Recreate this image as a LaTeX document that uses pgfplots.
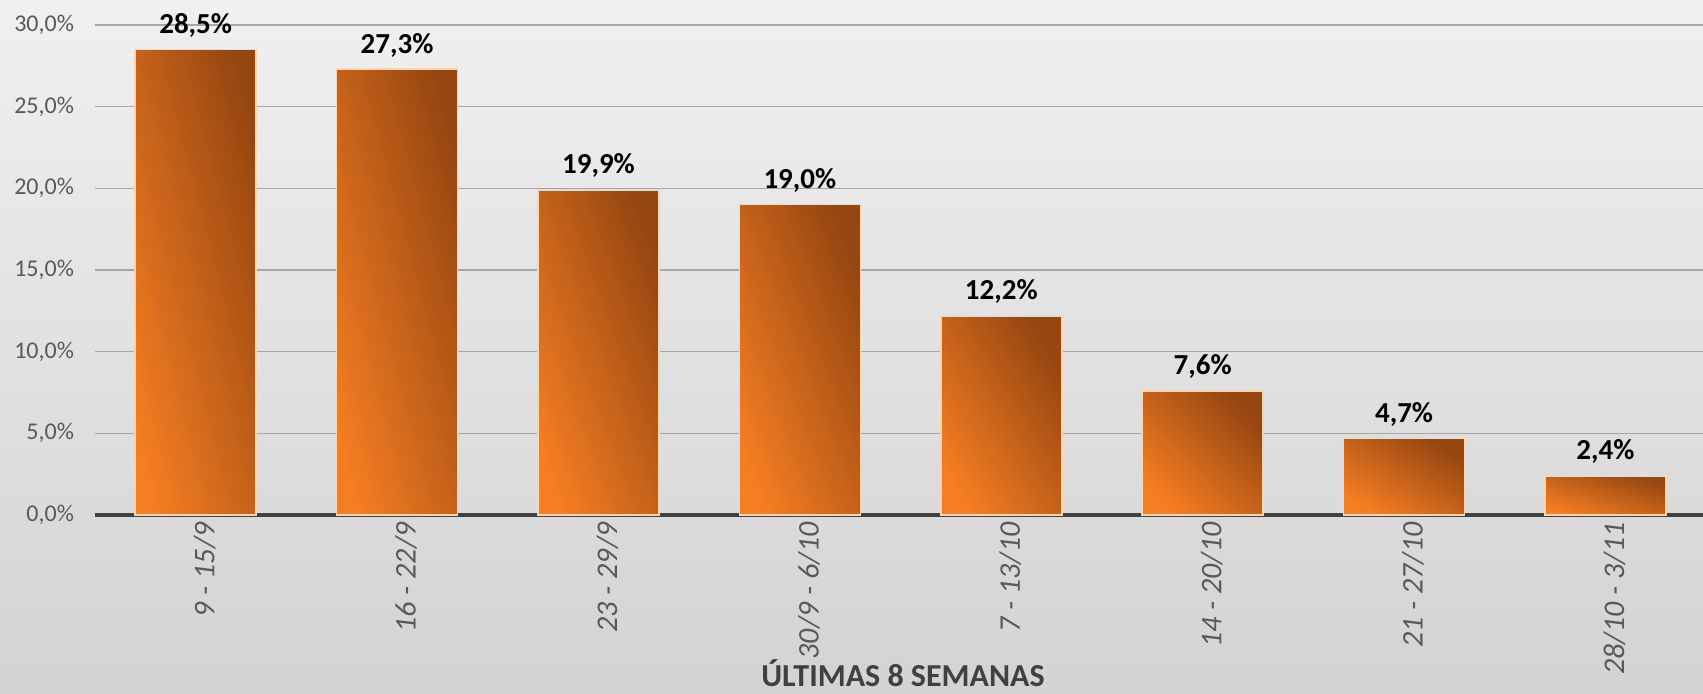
\documentclass[border=0pt]{standalone}
\usepackage{fontspec}
\setmainfont{Carlito}
\usepackage{pgfplots}
\pgfplotsset{compat=1.18}

\definecolor{barlight}{HTML}{F57D22}
\definecolor{bardark}{HTML}{954611}
\definecolor{barborder}{HTML}{FBD6AE}
\definecolor{tickgray}{HTML}{595959}
\definecolor{titlegray}{HTML}{404040}
\definecolor{gridgray}{HTML}{A6A6A6}
\definecolor{bgtop}{HTML}{F0F0F0}
\definecolor{bgbottom}{HTML}{D3D3D3}

% one plot per bar so that each bar gets its own gradient;
% the angle is set per bar so the gradient runs corner to corner
\pgfplotsset{
  onebar/.style={ybar, bar shift=0pt, bar width=60.5pt, draw=barborder, line width=0.8pt,
    top color=bardark, bottom color=barlight, shading angle=-#1,
    nodes near coords={\pgfmathprintnumber[fixed, fixed zerofill, precision=1, use comma, assume math mode=true]{\pgfplotspointmeta}\%},
    nodes near coords style={font=\bfseries\fontsize{14.5}{17}\selectfont, text=black, anchor=base, yshift=8pt}},
}

\begin{document}
\begin{tikzpicture}
\useasboundingbox (0,0) rectangle (851.5pt,347pt);
\shade[top color=bgtop, bottom color=bgbottom] (0,0) rectangle (851.5pt,347pt);

\begin{axis}[
    at={(47.5pt,89.5pt)}, anchor=south west,
    scale only axis, width=805.6pt, height=245pt,
    xmin=-0.5, xmax=7.5, ymin=0, ymax=30,
    axis x line*=bottom, axis y line*=left,
    x axis line style={draw=titlegray, line width=2pt, -},
    y axis line style={draw=none},
    major tick length=0pt,
    ymajorgrids, grid style={draw=gridgray, line width=0.7pt},
    ytick={0,5,...,30},
    yticklabels={{0,0\%},{5,0\%},{10,0\%},{15,0\%},{20,0\%},{25,0\%},{30,0\%}},
    yticklabel style={font=\fontsize{12}{14}\selectfont, text=tickgray, xshift=-7pt},
    xtick={0,...,7},
    xticklabels={9 - 15/9, 16 - 22/9, 23 - 29/9, 30/9 - 6/10, 7 - 13/10, 14 - 20/10, 21 - 27/10, 28/10 - 3/11},
    xticklabel style={rotate=90, anchor=east, yshift=-4.5pt, font=\itshape\fontsize{15}{17}\selectfont, text=tickgray},
    clip=false,
]
\addplot[onebar=75.4] coordinates {(0,28.5)};
\addplot[onebar=74.8] coordinates {(1,27.3)};
\addplot[onebar=69.6] coordinates {(2,19.9)};
\addplot[onebar=68.7] coordinates {(3,19.0)};
\addplot[onebar=58.7] coordinates {(4,12.2)};
\addplot[onebar=45.7] coordinates {(5,7.6)};
\addplot[onebar=32.4] coordinates {(6,4.7)};
\addplot[onebar=17.9] coordinates {(7,2.4)};
\end{axis}

\node[font=\bfseries\fontsize{16}{19}\selectfont, text=titlegray, anchor=base] at (451.5pt,3.5pt) {ÚLTIMAS 8 SEMANAS};
\end{tikzpicture}
\end{document}
